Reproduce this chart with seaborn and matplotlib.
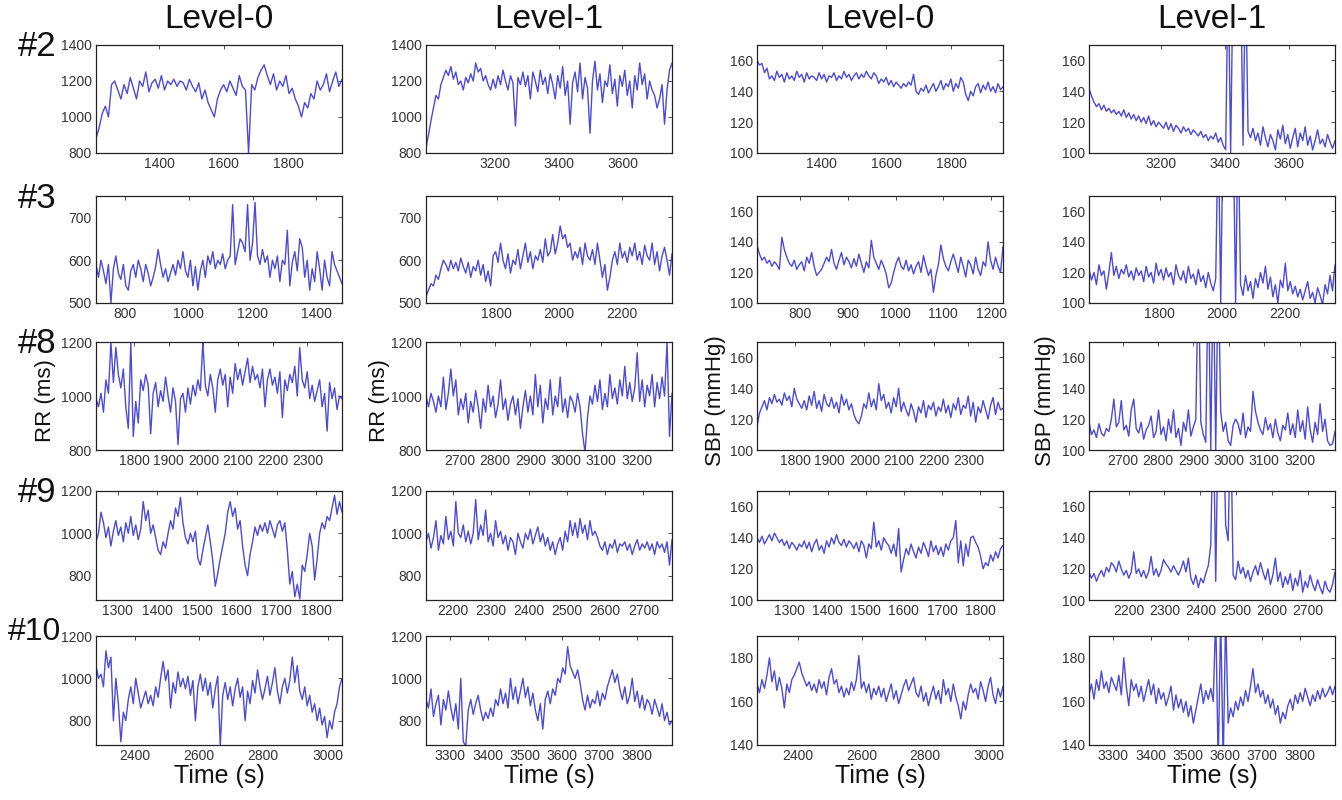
import numpy as np
import pandas as pd
import matplotlib
matplotlib.use("Agg")
import matplotlib.pyplot as plt
import seaborn as sns

# ---------------- data ----------------
row_names = ["#2", "#3", "#8", "#9", "#10"]
col_titles = ["Level-0", "Level-1", "Level-0", "Level-1"]

# time windows (s) for each panel
win_rr_l0 = [(1205, 1965), (710, 1480), (1690, 2400), (1245, 1865), (2280, 3045)]
win_rr_l1 = [(2985, 3755), (1575, 2360), (2605, 3300), (2130, 2775), (3235, 3895)]
win_sbp_l0 = [(1200, 1960), (710, 1225), (1690, 2400), (1215, 1860), (2270, 3045)]
win_sbp_l1 = [(2975, 3745), (1575, 2360), (2605, 3300), (2090, 2775), (3235, 3895)]

# x tick labels
xt_rr_l0 = [[1400, 1600, 1800], [800, 1000, 1200, 1400], [1800, 1900, 2000, 2100, 2200, 2300],
            [1300, 1400, 1500, 1600, 1700, 1800], [2400, 2600, 2800, 3000]]
xt_l1 = [[3200, 3400, 3600], [1800, 2000, 2200], [2700, 2800, 2900, 3000, 3100, 3200],
         [2200, 2300, 2400, 2500, 2600, 2700], [3300, 3400, 3500, 3600, 3700, 3800]]
xt_sbp_l0 = [[1400, 1600, 1800], [800, 900, 1000, 1100, 1200], [1800, 1900, 2000, 2100, 2200, 2300],
             [1300, 1400, 1500, 1600, 1700, 1800], [2400, 2600, 2800, 3000]]

# y ranges / tick labels
yl_rr = [(800, 1400), (500, 750), (800, 1200), (685, 1200), (685, 1200)]
yt_rr = [[800, 1000, 1200, 1400], [500, 600, 700], [800, 1000, 1200], [800, 1000, 1200], [800, 1000, 1200]]
yl_sbp = [(100, 170), (100, 170), (100, 170), (100, 170), (140, 190)]
yt_sbp = [[100, 120, 140, 160]] * 4 + [[140, 160, 180]]

# ---- subject #2 ----
rr2_l0 = [880, 940, 1020, 1060, 1000, 1180, 1200, 1150, 1100, 1180,
          1130, 1220, 1160, 1100, 1200, 1170, 1250, 1140, 1190, 1210,
          1160, 1230, 1150, 1200, 1180, 1210, 1170, 1200, 1190, 1150,
          1210, 1170, 1140, 1190, 1100, 1150, 1080, 1040, 1000, 1100,
          1150, 1180, 1140, 1200, 1160, 1120, 1230, 1170, 1150, 800,
          1180, 1150, 1220, 1260, 1290, 1230, 1180, 1240, 1150, 1200,
          1170, 1230, 1130, 1160, 1100, 1060, 1000, 1080, 1050, 1130,
          1100, 1200, 1150, 1180, 1240, 1140, 1200, 1250, 1170, 1210]
rr2_l1 = [830, 900, 980, 1050, 1120, 1100, 1180, 1220, 1260, 1230,
          1280, 1210, 1250, 1180, 1200, 1150, 1220, 1190, 1240, 1200,
          1300, 1250, 1270, 1200, 1230, 1180, 1150, 1210, 1160, 1230,
          1180, 1260, 1200, 1150, 1230, 1190, 950, 1220, 1180, 1250,
          1170, 1230, 1100, 1250, 1200, 1140, 1260, 1180, 1220, 1130,
          1240, 1180, 1100, 1230, 1160, 1280, 1120, 1200, 960, 1190,
          1250, 1140, 1300, 1100, 1220, 1160, 910, 1200, 1310, 1150,
          1240, 1080, 1200, 1170, 1290, 1130, 1210, 1060, 1230, 1170,
          1260, 1120, 1200, 1050, 1230, 1150, 1300, 1180, 1240, 1100,
          1200, 1150, 1120, 1050, 1100, 1180, 960, 1150, 1260, 1300]
sbp2_l0 = [160, 157, 158, 152, 155, 148, 150, 147, 153, 149,
           151, 146, 152, 148, 150, 147, 153, 149, 151, 146,
           152, 148, 150, 149, 147, 152, 148, 151, 146, 150,
           149, 152, 147, 150, 148, 153, 149, 151, 147, 150,
           152, 148, 151, 149, 153, 150, 148, 152, 150, 145,
           148, 146, 149, 144, 147, 143, 146, 144, 142, 145,
           143, 146, 144, 151, 140, 138, 142, 140, 144, 139,
           142, 145, 140, 143, 147, 141, 145, 143, 148, 140,
           145, 142, 149, 146, 138, 134, 140, 137, 143, 145,
           139, 144, 141, 146, 140, 143, 139, 145, 141, 143]
sbp2_l1 = [142, 137, 133, 130, 132, 128, 131, 127, 129, 126,
           128, 125, 127, 124, 128, 123, 126, 122, 125, 121,
           124, 120, 123, 119, 124, 118, 121, 117, 120, 118,
           116, 120, 115, 119, 114, 118, 116, 113, 117, 114,
           116, 112, 115, 113, 111, 114, 110, 112, 108, 111,
           109, 113, 107, 110, 105, 102, 220, 100, 220, 220,
           220, 220, 105, 220, 114, 110, 116, 108, 113, 105,
           117, 110, 104, 112, 108, 102, 115, 109, 118, 106,
           112, 103, 110, 116, 104, 113, 108, 117, 105, 111,
           102, 108, 115, 106, 109, 104, 112, 107, 103, 108]

# ---- subject #3 ----
rr3_l0 = [590, 560, 600, 575, 545, 590, 500, 580, 610, 570,
          555, 590, 540, 530, 575, 590, 560, 600, 580, 550,
          590, 570, 540, 560, 585, 625, 590, 560, 580, 550,
          570, 590, 565, 600, 580, 620, 575, 560, 600, 540,
          585, 530, 575, 600, 560, 610, 590, 620, 580, 600,
          590, 615, 580, 600, 610, 730, 590, 620, 650, 640,
          620, 730, 600, 640, 735, 610, 590, 625, 595, 610,
          560, 600, 580, 610, 550, 600, 590, 670, 540, 595,
          620, 575, 650, 630, 560, 600, 530, 580, 550, 620,
          580, 530, 600, 560, 540, 620, 590, 575, 560, 545]
rr3_l1 = [515, 530, 545, 540, 565, 555, 580, 600, 590, 575,
          600, 580, 595, 575, 605, 585, 570, 595, 560, 585,
          575, 600, 565, 590, 550, 575, 540, 610, 620, 595,
          640, 600, 580, 615, 570, 600, 590, 625, 580, 610,
          640, 595, 620, 580, 610, 600, 625, 595, 650, 610,
          620, 660, 615, 640, 680, 650, 660, 630, 640, 600,
          620, 605, 630, 590, 640, 610, 600, 625, 590, 640,
          600, 560, 590, 530, 560, 600, 620, 590, 640, 605,
          620, 595, 630, 610, 640, 600, 620, 590, 635, 610,
          600, 640, 590, 620, 575, 610, 630, 600, 565, 615]
sbp3_l0 = [138, 132, 128, 130, 126, 128, 124, 127, 125, 122,
           143, 135, 130, 126, 124, 128, 122, 125, 127, 121,
           130, 126, 133, 124, 118, 120, 122, 126, 130, 127,
           135, 126, 122, 128, 133, 125, 130, 127, 123, 129,
           124, 132, 126, 120, 127, 123, 141, 130, 126, 122,
           128, 124, 119, 110, 113, 120, 126, 130, 124, 122,
           128, 121, 125, 119, 124, 127, 120, 131, 124, 118,
           122, 107, 118, 125, 138, 129, 124, 121, 127, 132,
           126, 120, 130, 124, 117, 128, 125, 119, 130, 122,
           118, 127, 124, 140, 128, 122, 130, 124, 120, 137]
sbp3_l1 = [122, 115, 120, 112, 125, 118, 121, 109, 120, 133,
           118, 124, 116, 122, 119, 125, 117, 121, 115, 123,
           118, 121, 114, 124, 117, 120, 113, 126, 118, 122,
           115, 123, 117, 120, 112, 125, 118, 115, 121, 113,
           124, 116, 119, 112, 122, 114, 118, 110, 120, 113,
           108, 116, 220, 100, 220, 220, 220, 220, 220, 100,
           220, 112, 105, 118, 108, 114, 103, 116, 110, 120,
           113, 124, 109, 117, 104, 112, 100, 115, 110, 126,
           108, 114, 106, 111, 104, 109, 102, 108, 114, 103,
           107, 100, 110, 105, 99, 112, 106, 118, 108, 125]

# ---- subject #8 ----
rr8_l0 = [990, 960, 1010, 940, 1060, 1010, 1200, 1050, 1180, 1080,
          1030, 1100, 960, 880, 1200, 850, 980, 900, 1060, 1020,
          1080, 1040, 860, 1010, 1050, 960, 1020, 980, 1070, 1000,
          940, 1030, 980, 820, 990, 1010, 940, 1030, 970, 1040,
          1000, 1060, 1020, 1200, 1040, 1000, 1080, 1030, 940, 1060,
          1100, 1040, 1080, 960, 1070, 1010, 1120, 1060, 1100, 1040,
          1090, 1140, 1050, 1110, 1060, 1080, 1030, 1100, 960, 1060,
          1100, 1040, 1070, 1010, 1090, 920, 1060, 1020, 1080, 1050,
          1110, 1000, 1180, 1060, 1030, 1090, 990, 1040, 980, 1020,
          1060, 960, 1010, 870, 1050, 990, 1030, 950, 1000, 990]
rr8_l1 = [1000, 960, 1010, 980, 940, 1000, 960, 1070, 950, 1010,
          1100, 1000, 1060, 930, 990, 950, 1010, 900, 980, 940,
          1020, 960, 880, 990, 940, 1040, 960, 1000, 920, 970,
          1060, 950, 990, 910, 970, 1000, 930, 990, 880, 960,
          1020, 940, 1000, 930, 1080, 960, 1040, 900, 990, 950,
          1060, 930, 1000, 960, 1070, 940, 990, 920, 1000, 980,
          940, 1010, 960, 860, 790, 920, 1000, 970, 1040, 980,
          1060, 950, 1010, 960, 1080, 990, 1030, 970, 1060, 1000,
          1110, 990, 1050, 980, 1030, 1160, 980, 1060, 960, 1040,
          1000, 1080, 960, 1050, 990, 1070, 1000, 1200, 850, 1010]
sbp8_l0 = [115, 124, 128, 132, 126, 134, 130, 136, 131, 133,
           129, 137, 132, 135, 128, 140, 133, 130, 127, 132,
           126, 135, 129, 138, 127, 132, 125, 136, 130, 128,
           134, 127, 131, 124, 136, 129, 133, 126, 130, 123,
           119, 117, 122, 130, 127, 137, 128, 133, 126, 143,
           132, 136, 127, 131, 124, 134, 128, 140, 125, 131,
           126, 122, 130, 125, 118, 128, 124, 132, 121, 129,
           126, 131, 122, 128, 125, 133, 124, 129, 121, 130,
           126, 134, 123, 129, 127, 135, 122, 131, 118, 128,
           124, 132, 126, 120, 129, 134, 123, 131, 126, 127]
sbp8_l1 = [118, 110, 113, 108, 117, 111, 109, 114, 112, 120,
           133, 115, 118, 132, 113, 116, 109, 126, 133, 114,
           111, 118, 107, 113, 116, 122, 108, 112, 126, 110,
           115, 106, 120, 111, 126, 108, 114, 103, 118, 112,
           126, 109, 115, 120, 220, 118, 110, 105, 220, 100,
           220, 100, 220, 125, 112, 118, 106, 103, 116, 120,
           117, 110, 124, 108, 115, 112, 138, 125, 118, 113,
           110, 121, 113, 117, 108, 120, 111, 106, 116, 113,
           124, 110, 117, 108, 126, 112, 119, 107, 128, 113,
           105, 118, 110, 130, 112, 120, 106, 103, 104, 112]

# ---- subject #9 ----
rr9_l0 = [960, 1000, 1100, 1050, 980, 1030, 940, 1010, 1060, 990,
          1030, 960, 1050, 1000, 1080, 990, 1040, 970, 1020, 1150,
          1060, 1110, 1000, 1040, 980, 920, 900, 960, 930, 1000,
          1060, 1020, 1120, 1080, 1170, 1050, 980, 950, 1000, 960,
          1010, 880, 850, 920, 980, 1040, 960, 870, 750, 810,
          880, 940, 1000, 1100, 1150, 1080, 1120, 1020, 1060, 940,
          850, 800, 900, 960, 1030, 990, 1040, 1010, 1050, 1000,
          1060, 1020, 980, 1040, 1060, 1010, 1050, 920, 760, 820,
          700, 760, 690, 850, 820, 900, 1000, 940, 780, 880,
          1000, 1050, 1020, 1080, 1060, 1120, 1180, 1090, 1150, 1100]
rr9_l1 = [960, 1000, 930, 980, 1060, 920, 990, 950, 1080, 970,
          1010, 940, 1150, 1000, 980, 1040, 960, 1010, 950, 1000,
          1160, 970, 1040, 990, 1110, 960, 1000, 940, 1060, 980,
          1010, 950, 990, 920, 980, 960, 900, 1000, 960, 930,
          1000, 970, 1020, 950, 990, 1030, 960, 1000, 940, 980,
          920, 960, 900, 950, 980, 920, 1010, 960, 1060, 990,
          1050, 980, 1070, 1000, 1040, 970, 1060, 990, 1010, 980,
          940, 920, 960, 900, 950, 930, 970, 910, 950, 940,
          960, 920, 950, 900, 940, 970, 920, 950, 930, 960,
          920, 950, 900, 960, 930, 950, 910, 960, 850, 970]
sbp9_l0 = [140, 137, 141, 136, 139, 142, 138, 143, 140, 137,
           139, 135, 138, 133, 137, 135, 132, 136, 134, 138,
           133, 137, 131, 136, 139, 132, 135, 130, 138, 134,
           140, 136, 142, 137, 135, 139, 134, 138, 136, 133,
           137, 131, 138, 135, 127, 136, 133, 150, 134, 138,
           132, 140, 137, 135, 130, 136, 128, 146, 118, 126,
           133, 129, 136, 131, 127, 134, 130, 137, 133, 128,
           138, 131, 135, 129, 134, 128, 136, 132, 138, 140,
           151, 124, 138, 122, 136, 128, 140, 141, 137, 134,
           128, 120, 124, 122, 129, 125, 131, 127, 133, 135]
sbp9_l1 = [118, 114, 117, 112, 116, 119, 115, 121, 118, 124,
           122, 118, 125, 120, 116, 119, 114, 118, 131, 117,
           120, 115, 119, 114, 118, 128, 116, 120, 115, 119,
           126, 123, 121, 118, 122, 119, 116, 120, 125, 118,
           127, 114, 110, 116, 108, 114, 111, 117, 122, 135,
           220, 112, 220, 220, 220, 148, 138, 220, 116, 113,
           125, 117, 121, 114, 119, 112, 118, 122, 116, 124,
           118, 113, 120, 110, 116, 127, 112, 118, 108, 115,
           110, 117, 106, 114, 109, 119, 105, 112, 108, 116,
           110, 106, 113, 108, 104, 112, 107, 105, 110, 118]

# ---- subject #10 ----
rr10_l0 = [1060, 1000, 1020, 960, 1130, 1050, 1100, 800, 1000, 880,
           700, 840, 800, 900, 960, 880, 1000, 930, 860, 900,
           940, 880, 920, 870, 960, 910, 1000, 1080, 990, 1040,
           860, 980, 930, 1030, 960, 1000, 950, 1010, 920, 990,
           800, 960, 1020, 940, 1000, 920, 980, 860, 950, 1010,
           680, 920, 980, 900, 960, 870, 950, 1000, 910, 960,
           800, 940, 880, 990, 930, 1040, 960, 900, 950, 1010,
           920, 980, 1050, 940, 880, 960, 1000, 930, 990, 1100,
           980, 1060, 940, 900, 960, 870, 920, 840, 880, 800,
           860, 780, 820, 720, 800, 760, 840, 880, 960, 1000]
rr10_l1 = [900, 860, 950, 820, 880, 920, 780, 900, 850, 940,
           860, 800, 880, 760, 1000, 700, 680, 850, 900, 830,
           880, 920, 850, 800, 840, 810, 860, 820, 900, 870,
           950, 880, 930, 860, 1000, 900, 960, 880, 940, 1000,
           910, 960, 870, 930, 850, 800, 880, 760, 900, 940,
           880, 950, 920, 1000, 980, 1050, 1020, 1150, 1060, 1030,
           1000, 1040, 980, 900, 850, 920, 860, 900, 880, 940,
           870, 930, 900, 960, 1000, 1040, 980, 1020, 950, 900,
           960, 880, 920, 1000, 890, 940, 860, 920, 850, 900,
           880, 830, 900, 860, 820, 880, 800, 840, 780, 800]
sbp10_l0 = [168, 164, 170, 166, 172, 180, 169, 174, 165, 171,
            166, 157, 168, 164, 170, 172, 175, 178, 173, 170,
            167, 169, 165, 168, 164, 170, 166, 169, 163, 171,
            175, 168, 170, 164, 167, 162, 166, 163, 169, 165,
            170, 181, 166, 169, 164, 168, 161, 166, 163, 167,
            162, 166, 160, 164, 168, 161, 165, 159, 163, 167,
            170, 165, 168, 171, 164, 162, 167, 160, 164, 158,
            163, 167, 161, 165, 159, 170, 163, 166, 160, 168,
            162, 158, 152, 160, 156, 163, 168, 164, 166, 161,
            169, 165, 160, 167, 171, 163, 159, 166, 162, 167]
sbp10_l1 = [163, 168, 161, 170, 165, 174, 166, 169, 164, 171,
            168, 165, 172, 163, 180, 167, 158, 170, 165, 168,
            162, 167, 160, 165, 170, 163, 168, 159, 166, 161,
            164, 158, 162, 167, 156, 163, 157, 161, 155, 160,
            153, 158, 150, 156, 162, 168, 159, 165, 161, 166,
            160, 200, 130, 200, 130, 200, 150, 157, 153, 160,
            156, 162, 158, 165, 160, 167, 175, 164, 168, 162,
            165, 159, 163, 157, 161, 154, 158, 150, 155, 152,
            158, 161, 156, 163, 159, 164, 160, 166, 162, 158,
            163, 160, 165, 161, 166, 162, 164, 167, 163, 167]

rr_l0 = [rr2_l0, rr3_l0, rr8_l0, rr9_l0, rr10_l0]
rr_l1 = [rr2_l1, rr3_l1, rr8_l1, rr9_l1, rr10_l1]
sbp_l0 = [sbp2_l0, sbp3_l0, sbp8_l0, sbp9_l0, sbp10_l0]
sbp_l1 = [sbp2_l1, sbp3_l1, sbp8_l1, sbp9_l1, sbp10_l1]

# ---------------- drawing ----------------
sns.set_theme(style="white")
plt.rcParams["font.family"] = ["Liberation Sans", "DejaVu Sans"]

W, H = 1342, 800
fig = plt.figure(figsize=(W / 100, H / 100), dpi=100)
fig.patch.set_facecolor("white")

col_px = [(96, 342), (426, 672), (757, 1003), (1089, 1335)]
row_px = [(45, 153), (196, 303), (342, 450), (491, 600), (636, 745)]
LINE = "#2b2bd0"


def add_panel(r, c, vals, win, xt, yl, yt):
    x0, x1 = col_px[c]
    y0, y1 = row_px[r]
    ax = fig.add_axes([x0 / W, 1 - y1 / H, (x1 - x0) / W, (y1 - y0) / H])
    df = pd.DataFrame({"t": np.linspace(win[0], win[1], len(vals)), "v": vals})
    sns.lineplot(data=df, x="t", y="v", ax=ax, color=LINE, linewidth=1.0,
                 alpha=0.85, estimator=None, sort=False, legend=False)
    ax.set_xlim(win)
    ax.set_ylim(yl)
    ax.set_xticks(xt)
    ax.set_yticks(yt)
    ax.set_xlabel("")
    ax.set_ylabel("")
    for s in ax.spines.values():
        s.set_color("#222222")
        s.set_linewidth(0.9)
    ax.tick_params(direction="in", length=3, width=0.6, top=True, right=True,
                   labelsize=10, labelcolor="#333333", pad=3, colors="#333333")
    ax.set_facecolor("white")
    return ax


for r in range(5):
    add_panel(r, 0, rr_l0[r], win_rr_l0[r], xt_rr_l0[r], yl_rr[r], yt_rr[r])
    add_panel(r, 1, rr_l1[r], win_rr_l1[r], xt_l1[r], yl_rr[r], yt_rr[r])
    add_panel(r, 2, sbp_l0[r], win_sbp_l0[r], xt_sbp_l0[r], yl_sbp[r], yt_sbp[r])
    add_panel(r, 3, sbp_l1[r], win_sbp_l1[r], xt_l1[r], yl_sbp[r], yt_sbp[r])

# column titles
for c, title in enumerate(col_titles):
    cx = (col_px[c][0] + col_px[c][1]) / 2
    fig.text(cx / W, 1 - 20 / H, title, ha="center", va="center", fontsize=24, color="#111111")

# row labels
row_label_pos = [(18, 47), (18, 198), (18, 344), (18, 493), (8, 632)]
row_label_size = [25, 25, 25, 25, 23]
for name, (x, y), fs in zip(row_names, row_label_pos, row_label_size):
    fig.text(x / W, 1 - y / H, name, ha="left", va="center", fontsize=fs, color="#111111")

# y labels (middle row)
ymid = 1 - 401 / H
for x, lab in [(45, "RR (ms)"), (380, "RR (ms)"), (715, "SBP (mmHg)"), (1045, "SBP (mmHg)")]:
    fig.text(x / W, ymid, lab, rotation=90, ha="center", va="center", fontsize=16, color="#111111")

# x labels (bottom row)
for c in range(4):
    cx = (col_px[c][0] + col_px[c][1]) / 2
    fig.text(cx / W, 1 - 776 / H, "Time (s)", ha="center", va="center", fontsize=18, color="#111111")

fig.savefig("out.png", dpi=100)
